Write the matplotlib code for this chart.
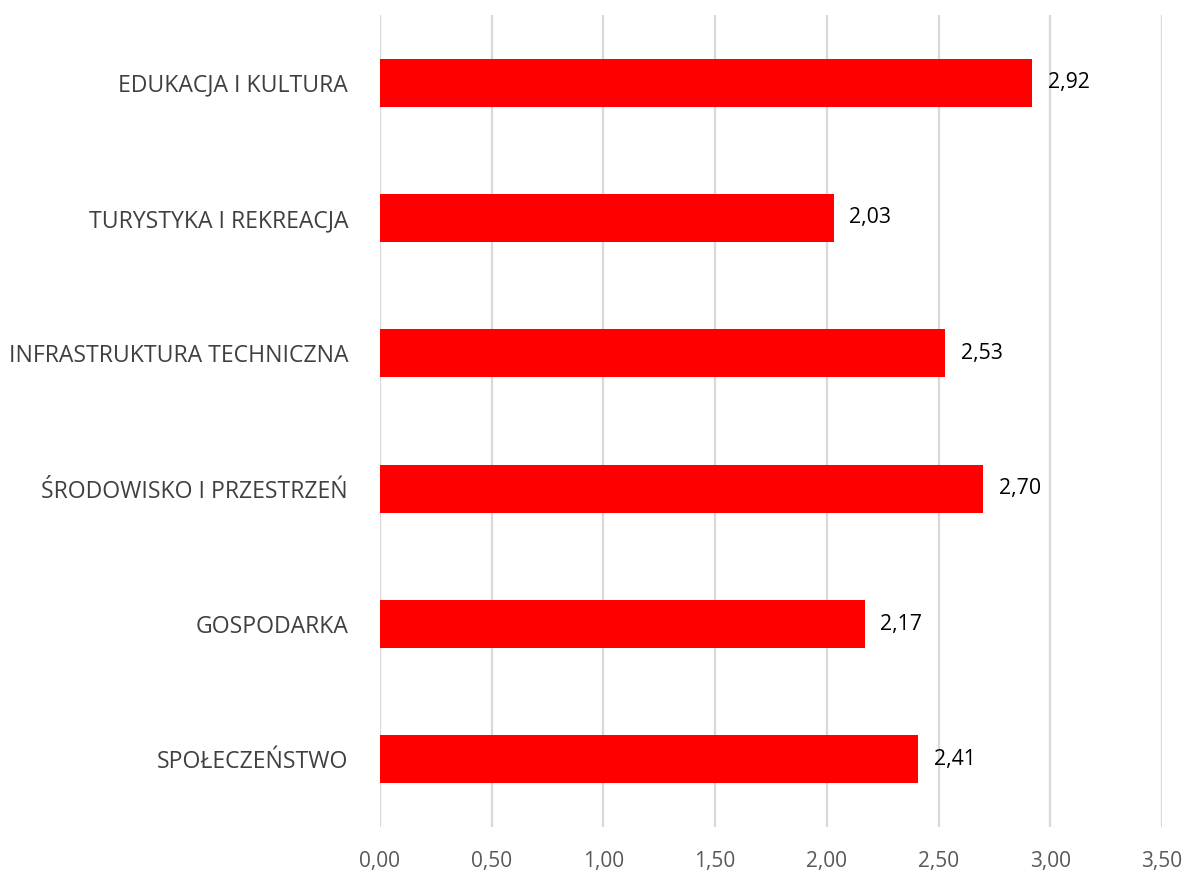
import matplotlib.pyplot as plt
import numpy as np

plt.rcParams['font.family'] = ['Open Sans', 'DejaVu Sans']

categories = ["SPOŁECZEŃSTWO", "GOSPODARKA", "ŚRODOWISKO I PRZESTRZEŃ",
              "INFRASTRUKTURA TECHNICZNA", "TURYSTYKA I REKREACJA", "EDUKACJA I KULTURA"]
values = [2.41, 2.17, 2.70, 2.53, 2.03, 2.92]
ticks = [0, 0.5, 1.0, 1.5, 2.0, 2.5, 3.0, 3.5]

fig = plt.figure(figsize=(11.86, 8.72), dpi=100)
ax = fig.add_axes([0.3204, 0.0516, 0.6594, 0.9312])

y = np.arange(len(categories))
ax.barh(y, values, height=0.355, color="#ff0000", zorder=3)

for yi, v in zip(y, values):
    ax.annotate(f"{v:.2f}".replace(".", ","), (v, yi), xytext=(11, 0),
                textcoords="offset points", va="center", ha="left",
                fontsize=15.3, color="black")

ax.set_xlim(0, 3.5)
ax.set_ylim(-0.5, len(categories) - 0.5)
ax.set_xticks(ticks)
ax.set_xticklabels([f"{t:.2f}".replace(".", ",") for t in ticks], fontsize=15, color="#595959")
ax.set_yticks(y)
ax.set_yticklabels(categories, fontsize=16.6, color="#404040")
ax.tick_params(axis="both", length=0)
ax.tick_params(axis="y", pad=23)
ax.tick_params(axis="x", pad=17)
ax.grid(axis="x", color="#d9d9d9", linewidth=1.6, zorder=0)
for s in ax.spines.values():
    s.set_visible(False)

fig.savefig("out.png", dpi=100)
